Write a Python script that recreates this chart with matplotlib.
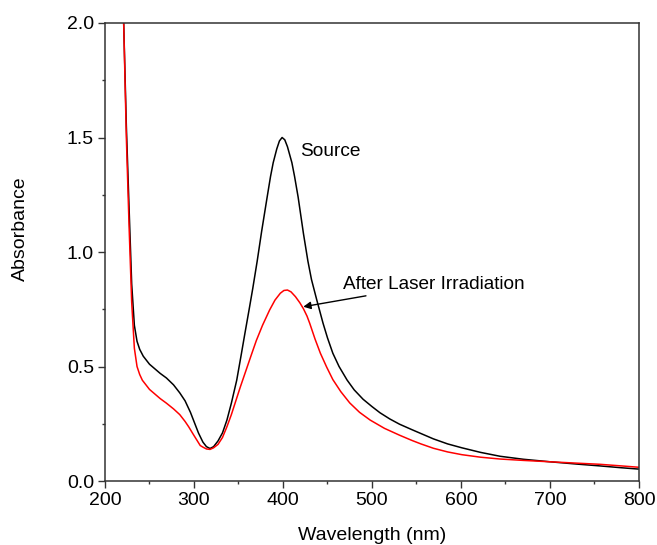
import matplotlib.pyplot as plt
from matplotlib.ticker import MultipleLocator

plt.rcParams["font.family"] = ["Liberation Sans", "DejaVu Sans"]

# Source spectrum
source_nm = [218, 221, 224, 227, 230, 233, 236, 239, 243, 250, 256, 262, 269, 277,
             284, 290, 296, 301, 305, 310, 314, 318, 322, 327, 332, 337, 342, 348,
             353, 357, 362, 366, 371, 376, 382, 386, 389, 393, 396, 399, 402, 405,
             410, 413, 417, 423, 428, 432, 438, 445, 450, 456, 463, 472, 480, 490,
             500, 509, 520, 531, 545, 554, 569, 585, 601, 622, 644, 670, 700, 730,
             756, 780, 800]
source_abs = [2.4, 2.0, 1.55, 1.2, 0.86, 0.68, 0.61, 0.575, 0.545, 0.51, 0.49, 0.47,
              0.45, 0.42, 0.385, 0.35, 0.3, 0.25, 0.21, 0.17, 0.15, 0.142, 0.15,
              0.175, 0.21, 0.266, 0.34, 0.44, 0.55, 0.64, 0.75, 0.84, 0.96, 1.09,
              1.235, 1.33, 1.39, 1.45, 1.485, 1.5, 1.49, 1.46, 1.39, 1.33, 1.24,
              1.08, 0.96, 0.88, 0.79, 0.689, 0.625, 0.558, 0.5, 0.441, 0.398,
              0.357, 0.325, 0.298, 0.271, 0.248, 0.224, 0.209, 0.184, 0.162, 0.145,
              0.125, 0.108, 0.095, 0.084, 0.074, 0.066, 0.058, 0.052]

# After laser irradiation
laser_nm = [218, 221, 224, 227, 230, 233, 236, 239, 242, 246, 250, 256, 262, 269,
            277, 284, 290, 294, 299, 303, 307, 310, 314, 318, 322, 327, 332, 337,
            342, 347, 352, 358, 364, 370, 377, 385, 391, 397, 401, 405, 409, 414,
            419, 423, 427, 430, 436, 442, 449, 456, 465, 475, 486, 498, 514, 531,
            545, 555, 569, 585, 601, 622, 644, 670, 700, 730, 756, 780, 800]
laser_abs = [2.4, 2.0, 1.5, 1.12, 0.78, 0.58, 0.5, 0.465, 0.44, 0.42, 0.4, 0.38,
             0.36, 0.34, 0.315, 0.29, 0.26, 0.237, 0.205, 0.18, 0.155, 0.148, 0.14,
             0.138, 0.145, 0.16, 0.19, 0.237, 0.29, 0.35, 0.41, 0.478, 0.546, 0.613,
             0.68, 0.747, 0.79, 0.82, 0.832, 0.834, 0.826, 0.805, 0.778, 0.752,
             0.72, 0.689, 0.62, 0.558, 0.498, 0.443, 0.39, 0.341, 0.3, 0.266, 0.23,
             0.2, 0.177, 0.162, 0.143, 0.127, 0.115, 0.104, 0.096, 0.09, 0.084,
             0.078, 0.073, 0.066, 0.06]

fig = plt.figure(figsize=(6.57, 5.45), dpi=100)
ax = fig.add_axes([0.1598, 0.1174, 0.8128, 0.8404])

ax.plot(source_nm, source_abs, color="black", lw=1.1)
ax.plot(laser_nm, laser_abs, color="#ff0000", lw=1.1)

ax.set_xlim(200, 800)
ax.set_ylim(0, 2.0)
ax.xaxis.set_major_locator(MultipleLocator(100))
ax.xaxis.set_minor_locator(MultipleLocator(50))
ax.yaxis.set_major_locator(MultipleLocator(0.5))
ax.yaxis.set_minor_locator(MultipleLocator(0.25))
ax.yaxis.set_major_formatter(plt.FormatStrFormatter("%.1f"))
ax.tick_params(which="major", direction="out", length=5, width=1, labelsize=14,
               color="#333333", pad=3)
ax.tick_params(which="minor", direction="out", length=2.5, width=1, color="#333333")
for side in ax.spines.values():
    side.set_color("#333333")
    side.set_linewidth(1.1)

ax.set_xlabel("Wavelength (nm)", fontsize=14, va="center")
ax.xaxis.set_label_coords(0.5, -0.118)
ax.set_ylabel("Absorbance", fontsize=14, va="center")
ax.yaxis.set_label_coords(-0.159, 0.55)

ax.text(419, 1.437, "Source", fontsize=13.8, va="center", ha="left")
ax.annotate("After Laser Irradiation", xy=(422.8, 0.761), xytext=(467, 0.86),
            fontsize=13.7, va="center", ha="left",
            arrowprops=dict(arrowstyle="-|>", color="black", lw=1.0,
                            mutation_scale=11, shrinkA=2, shrinkB=0))

fig.savefig("out.png", dpi=100)
